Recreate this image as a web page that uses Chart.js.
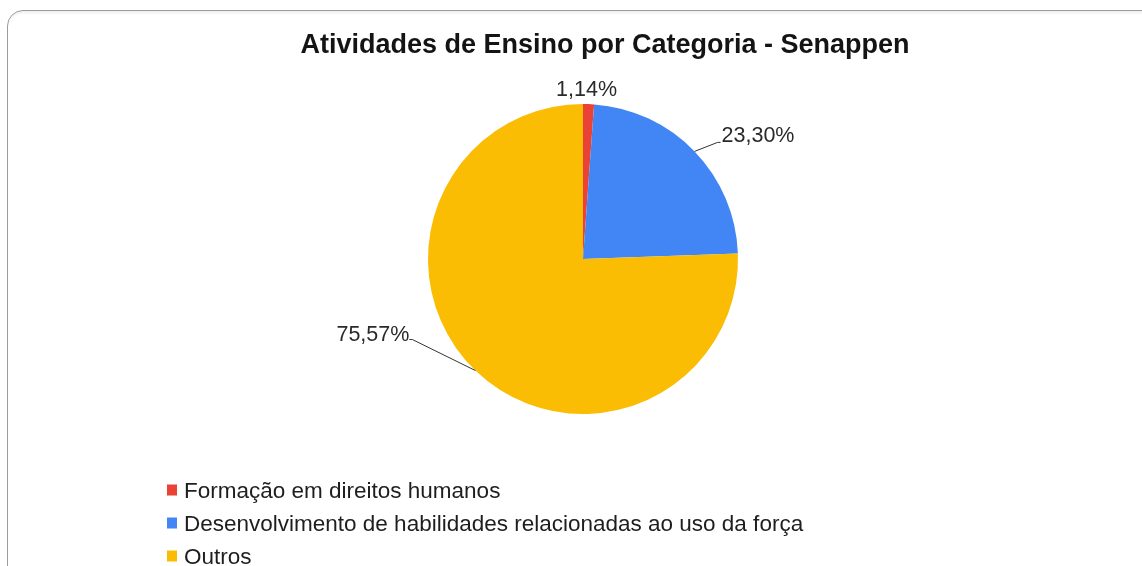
<!DOCTYPE html>
<html>
<head>
<meta charset="utf-8">
<script src="https://cdn.jsdelivr.net/npm/chart.js@4.4.1/dist/chart.umd.min.js"></script>
<style>
  html, body { margin: 0; padding: 0; background: #fff; width: 1142px; height: 566px; overflow: hidden; }
  #card { position: absolute; left: 7px; top: 10px; width: 1160px; height: 620px;
          border: 1.5px solid #9c9c9c; border-radius: 16px; box-shadow: inset 0 4px 3px -2px #eee; }
  #wrap { position: absolute; left: 0; top: 0; width: 1142px; height: 566px; }
</style>
</head>
<body>
<div id="card"></div>
<div id="wrap"><canvas id="c" width="1142" height="566"></canvas></div>
<script>
const chartTitle = 'Atividades de Ensino por Categoria - Senappen';
const categories = [
  'Formação em direitos humanos',
  'Desenvolvimento de habilidades relacionadas ao uso da força',
  'Outros'
];
const shares = [1.14, 23.30, 75.57];
const valueLabels = ['1,14%', '23,30%', '75,57%'];
const colors = ['#EA4335', '#4285F4', '#FBBC04'];

// label placement styles (relative to each slice's outer-edge midpoint)
const labelStyles = [
  { mode: 'above', gap: 8 },
  { mode: 'leader', dx: 23, dy: -9, side: 'right', base: 0 },
  { mode: 'leader', dx: -63, dy: -31, side: 'left', base: 1 }
];

const overlay = {
  id: 'overlay',
  afterDatasetsDraw(chart) {
    const ctx = chart.ctx;
    const meta = chart.getDatasetMeta(0);
    ctx.save();
    // title
    ctx.fillStyle = '#141414';
    ctx.font = 'bold 27px "Liberation Sans", Arial, sans-serif';
    ctx.textAlign = 'center';
    ctx.textBaseline = 'alphabetic';
    ctx.fillText(chartTitle, 605, 53);

    // slice labels
    ctx.font = '21.5px "Liberation Sans", Arial, sans-serif';
    ctx.fillStyle = '#2a2a2a';
    ctx.strokeStyle = '#333';
    ctx.lineWidth = 1;
    meta.data.forEach((arc, i) => {
      const p = arc.getProps(['x', 'y', 'startAngle', 'endAngle', 'outerRadius'], true);
      const mid = (p.startAngle + p.endAngle) / 2;
      const ex = p.x + Math.cos(mid) * p.outerRadius;
      const ey = p.y + Math.sin(mid) * p.outerRadius;
      const st = labelStyles[i];
      if (st.mode === 'above') {
        ctx.textAlign = 'center';
        ctx.textBaseline = 'alphabetic';
        ctx.fillText(valueLabels[i], ex - 2, ey - st.gap);
      } else {
        const lx = ex + st.dx, ly = ey + st.dy;
        ctx.beginPath();
        ctx.moveTo(ex, ey);
        ctx.lineTo(lx, ly);
        ctx.lineTo(lx + (st.side === 'right' ? 3 : -3), ly);
        ctx.stroke();
        ctx.textBaseline = 'alphabetic';
        if (st.side === 'right') {
          ctx.textAlign = 'left';
          ctx.fillText(valueLabels[i], lx + 4, ly + st.base);
        } else {
          ctx.textAlign = 'right';
          ctx.fillText(valueLabels[i], lx - 3, ly + st.base);
        }
      }
    });

    // legend
    ctx.font = '22.5px "Liberation Sans", Arial, sans-serif';
    ctx.textAlign = 'left';
    ctx.textBaseline = 'alphabetic';
    categories.forEach((name, i) => {
      const y = 490 + i * 33;
      ctx.fillStyle = colors[i];
      ctx.fillRect(167, y - 5.5, 10, 11);
      ctx.fillStyle = '#1e1e1e';
      ctx.fillText(name, 184, y + 8);
    });
    ctx.restore();
  }
};

new Chart(document.getElementById('c'), {
  type: 'pie',
  data: {
    labels: categories,
    datasets: [{ data: shares, backgroundColor: colors, borderWidth: 0 }]
  },
  options: {
    responsive: false,
    animation: false,
    layout: { padding: { left: 428, right: 404, top: 104, bottom: 152 } },
    plugins: { legend: { display: false }, title: { display: false }, tooltip: { enabled: false } }
  },
  plugins: [overlay]
});
</script>
</body>
</html>
